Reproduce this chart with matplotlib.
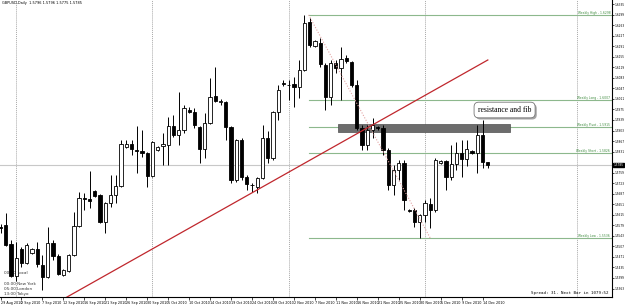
import matplotlib
matplotlib.use("Agg")
import matplotlib.pyplot as plt
import matplotlib.patheffects as pe
import numpy as np

# GBPUSD daily candles (one bar per trading day, Sunday bars included)
opens = [1.5573, 1.5580, 1.5515, 1.5406, 1.5498, 1.5451, 1.5485, 1.5498, 1.5444, 1.5403,
         1.5519, 1.5474, 1.5409, 1.5423, 1.5478, 1.5577, 1.5672, 1.5669, 1.5696, 1.5683,
         1.5590, 1.5655, 1.5683, 1.5713, 1.5847, 1.5857, 1.5836, 1.5833, 1.5826, 1.5748,
         1.5836, 1.5850, 1.5853, 1.5918, 1.5888, 1.5905, 1.5973, 1.5966, 1.5915, 1.5840,
         1.5929, 1.6021, 1.6000, 1.6000, 1.5915, 1.5734, 1.5871, 1.5744, 1.5717, 1.5710,
         1.5741, 1.5878, 1.5809, 1.5966, 1.6065, 1.6059, 1.6062, 1.6052, 1.6110, 1.6274,
         1.6192, 1.6202, 1.6127, 1.6018, 1.6134, 1.6117, 1.6151, 1.6137, 1.6059, 1.5912,
         1.5853, 1.5905, 1.5915, 1.5912, 1.5836, 1.5717, 1.5768, 1.5792, 1.5631, 1.5631,
         1.5590, 1.5614, 1.5652, 1.5631, 1.5792, 1.5799, 1.5744, 1.5789, 1.5826, 1.5806,
         1.5833, 1.5826, 1.5888, 1.5796]
highs = [1.5584, 1.5621, 1.5529, 1.5522, 1.5505, 1.5519, 1.5502, 1.5522, 1.5478, 1.5573,
         1.5529, 1.5481, 1.5430, 1.5481, 1.5625, 1.5693, 1.5689, 1.5765, 1.5700, 1.5686,
         1.5659, 1.5751, 1.5751, 1.5871, 1.5871, 1.5871, 1.5918, 1.5905, 1.5829, 1.5867,
         1.5850, 1.5895, 1.5949, 1.5956, 1.6035, 1.5990, 1.5983, 1.5980, 1.5918, 1.5963,
         1.6083, 1.6120, 1.6011, 1.6004, 1.5918, 1.5874, 1.5878, 1.5751, 1.5724, 1.5744,
         1.5922, 1.5901, 1.5969, 1.6059, 1.6076, 1.6076, 1.6086, 1.6144, 1.6298, 1.6287,
         1.6212, 1.6219, 1.6134, 1.6144, 1.6144, 1.6188, 1.6161, 1.6141, 1.6076, 1.5922,
         1.5922, 1.5946, 1.5918, 1.5922, 1.5843, 1.5785, 1.5802, 1.5802, 1.5635, 1.5638,
         1.5618, 1.5666, 1.5672, 1.5809, 1.5802, 1.5802, 1.5853, 1.5864, 1.5871, 1.5871,
         1.5836, 1.5922, 1.5939, 1.5796]
lows = [1.5553, 1.5508, 1.5403, 1.5389, 1.5437, 1.5447, 1.5481, 1.5437, 1.5358, 1.5399,
        1.5461, 1.5409, 1.5406, 1.5420, 1.5474, 1.5573, 1.5631, 1.5638, 1.5676, 1.5587,
        1.5553, 1.5642, 1.5655, 1.5710, 1.5843, 1.5819, 1.5758, 1.5813, 1.5710, 1.5744,
        1.5833, 1.5785, 1.5785, 1.5881, 1.5853, 1.5895, 1.5963, 1.5912, 1.5792, 1.5809,
        1.5926, 1.6000, 1.5990, 1.5871, 1.5724, 1.5727, 1.5734, 1.5700, 1.5693, 1.5689,
        1.5738, 1.5792, 1.5802, 1.5939, 1.6055, 1.6007, 1.5983, 1.6014, 1.6107, 1.6188,
        1.6188, 1.6120, 1.5973, 1.5990, 1.6100, 1.6007, 1.6134, 1.6052, 1.5905, 1.5836,
        1.5836, 1.5878, 1.5905, 1.5819, 1.5700, 1.5683, 1.5734, 1.5631, 1.5625, 1.5573,
        1.5536, 1.5590, 1.5570, 1.5625, 1.5789, 1.5700, 1.5734, 1.5768, 1.5744, 1.5782,
        1.5823, 1.5758, 1.5775, 1.5775]
closes = [1.5570, 1.5512, 1.5406, 1.5468, 1.5451, 1.5512, 1.5498, 1.5447, 1.5403, 1.5519,
          1.5474, 1.5413, 1.5427, 1.5478, 1.5577, 1.5672, 1.5669, 1.5662, 1.5679, 1.5590,
          1.5655, 1.5683, 1.5713, 1.5857, 1.5857, 1.5840, 1.5834, 1.5826, 1.5748, 1.5864,
          1.5847, 1.5857, 1.5918, 1.5888, 1.5905, 1.5980, 1.5966, 1.5922, 1.5840, 1.5929,
          1.6018, 1.6004, 1.6004, 1.5915, 1.5734, 1.5871, 1.5744, 1.5720, 1.5716, 1.5741,
          1.5878, 1.5809, 1.5966, 1.6042, 1.6062, 1.6058, 1.6052, 1.6110, 1.6270, 1.6195,
          1.6209, 1.6130, 1.6018, 1.6134, 1.6117, 1.6147, 1.6141, 1.6059, 1.5912, 1.5853,
          1.5905, 1.5922, 1.5912, 1.5836, 1.5717, 1.5768, 1.5792, 1.5666, 1.5629, 1.5590,
          1.5614, 1.5655, 1.5631, 1.5802, 1.5799, 1.5744, 1.5789, 1.5826, 1.5806, 1.5840,
          1.5826, 1.5888, 1.5796, 1.5785]

date_labels = ['29 Aug 2010', '2 Sep 2010', '7 Sep 2010', '12 Sep 2010', '16 Sep 2010',
               '21 Sep 2010', '26 Sep 2010', '30 Sep 2010', '5 Oct 2010', '10 Oct 2010',
               '14 Oct 2010', '19 Oct 2010', '24 Oct 2010', '28 Oct 2010', '2 Nov 2010',
               '7 Nov 2010', '11 Nov 2010', '16 Nov 2010', '21 Nov 2010', '25 Nov 2010',
               '30 Nov 2010', '5 Dec 2010', '9 Dec 2010', '14 Dec 2010']
month_starts = [3, 29, 55, 81, 110]   # period separators (bar index)

# weekly levels drawn from the Nov 5 bar onwards
level_names = ['Weekly High', 'Weekly Long', 'Weekly Pivot', 'Weekly Short', 'Weekly Low']
level_prices = [1.6298, 1.6007, 1.5915, 1.5826, 1.5536]
level_start = 58.8

trend_bars = [12, 93]
trend_prices = [1.5327, 1.6144]
fib_bars = [58.8, 82]
fib_prices = [1.6298, 1.5536]
zone_bars = [64.5, 97.3]
zone_prices = [1.5898, 1.5925]
note_text = 'resistance and fib'
note_bar, note_price = 96.2, 1.5973

fig = plt.figure(figsize=(6.25, 3.05), dpi=100)
ax = fig.add_axes([0, 8 / 305, 612 / 625, 297 / 305])

x = np.arange(len(closes))
o = np.array(opens)
c = np.array(closes)
up = c >= o

# period separators
for m in month_starts:
    ax.axvline(m, color='#a8a8a8', lw=0.7, ls=(0, (1, 1)), zorder=1)

# bid line
ax.axhline(closes[-1], color='#c8c8c8', lw=0.8, zorder=1)

# weekly levels
for name, p in zip(level_names, level_prices):
    ax.plot([level_start, 130], [p, p], color='#8db88d', lw=0.8, zorder=2)
    ax.text(0.997, p, '%s - %.4f' % (name, p), transform=ax.get_yaxis_transform(),
            ha='right', va='bottom', fontsize=2.2, color='#3c8a3c', zorder=6)

# resistance zone
ax.fill_between(zone_bars, zone_prices[0], zone_prices[1], color='#6c6c6c',
                edgecolor='#505050', lw=0.5, zorder=3)

# candles
ax.vlines(x, lows, highs, color='black', lw=0.7, zorder=4)
ax.bar(x[up], c[up] - o[up], bottom=o[up], width=0.62, color='white',
       edgecolor='black', lw=0.6, zorder=5)
ax.bar(x[~up], o[~up] - c[~up], bottom=c[~up], width=0.62, color='black',
       edgecolor='black', lw=0.6, zorder=5)

# trend line and fib diagonal
ax.plot(trend_bars, trend_prices, color='#c0272d', lw=0.9, zorder=6)
ax.plot(fib_bars, fib_prices, color='#e3a3a3', lw=0.8, ls=(0, (1, 1.5)), zorder=6)

# callout
t = ax.text(note_bar, note_price, note_text, family='Liberation Serif', fontsize=5.5,
            ha='center', va='center', zorder=8,
            bbox=dict(boxstyle='round,pad=0.5,rounding_size=0.6', fc='white',
                      ec='#777777', lw=0.6))
t.get_bbox_patch().set_path_effects([pe.withSimplePatchShadow(offset=(1.2, -1.2),
                                                               alpha=0.5)])

# axes
ax.set_xlim(-0.1, 116.7)
ax.set_ylim(1.5334, 1.6349)
for s in ['top', 'left']:
    ax.spines[s].set_visible(False)
for s in ['right', 'bottom']:
    ax.spines[s].set_linewidth(0.8)

price_ticks = np.arange(1.6335, 1.5334, -0.0036)
price_ticks = price_ticks[np.abs(price_ticks - closes[-1]) > 0.0012]
ax.yaxis.tick_right()
ax.set_yticks(price_ticks)
ax.set_yticklabels(['%.4f' % v for v in price_ticks])
ax.tick_params(axis='y', labelsize=2.1, length=1.5, width=0.5, pad=0.5)
ax.set_xticks(np.arange(0, 93, 4))
ax.set_xticklabels(date_labels, ha='left')
ax.tick_params(axis='x', labelsize=2.4, length=2, width=0.5, pad=1)

# current price marker on the axis
ax.text(1.002, closes[-1], '%.4f' % closes[-1], transform=ax.get_yaxis_transform(),
        ha='left', va='center', fontsize=2.1, color='white', clip_on=False,
        bbox=dict(boxstyle='square,pad=0.1', fc='black', ec='black'))

ax.text(0.003, 0.997, 'GBPUSD,Daily  %.4f %.4f %.4f %.4f'
        % (opens[-1], highs[-1], lows[-1], closes[-1]),
        transform=ax.transAxes, ha='left', va='top', fontsize=2.5)

for txt, yy in zip(['00:00 Local', '00:00 New York', '05:00 London', '13:00 Tokyo'],
                   [273, 284, 289, 294]):
    ax.text(4 / 612, 1 - yy / 297, txt, transform=ax.transAxes, ha='left',
            va='center', fontsize=3.0, color='#333333')

ax.text(0.995, 0.006, 'Spread: 31. Next Bar in 1079:52', transform=ax.transAxes,
        ha='right', va='bottom', fontsize=3.0, family='DejaVu Sans Mono')

plt.savefig('out.png', dpi=100)
